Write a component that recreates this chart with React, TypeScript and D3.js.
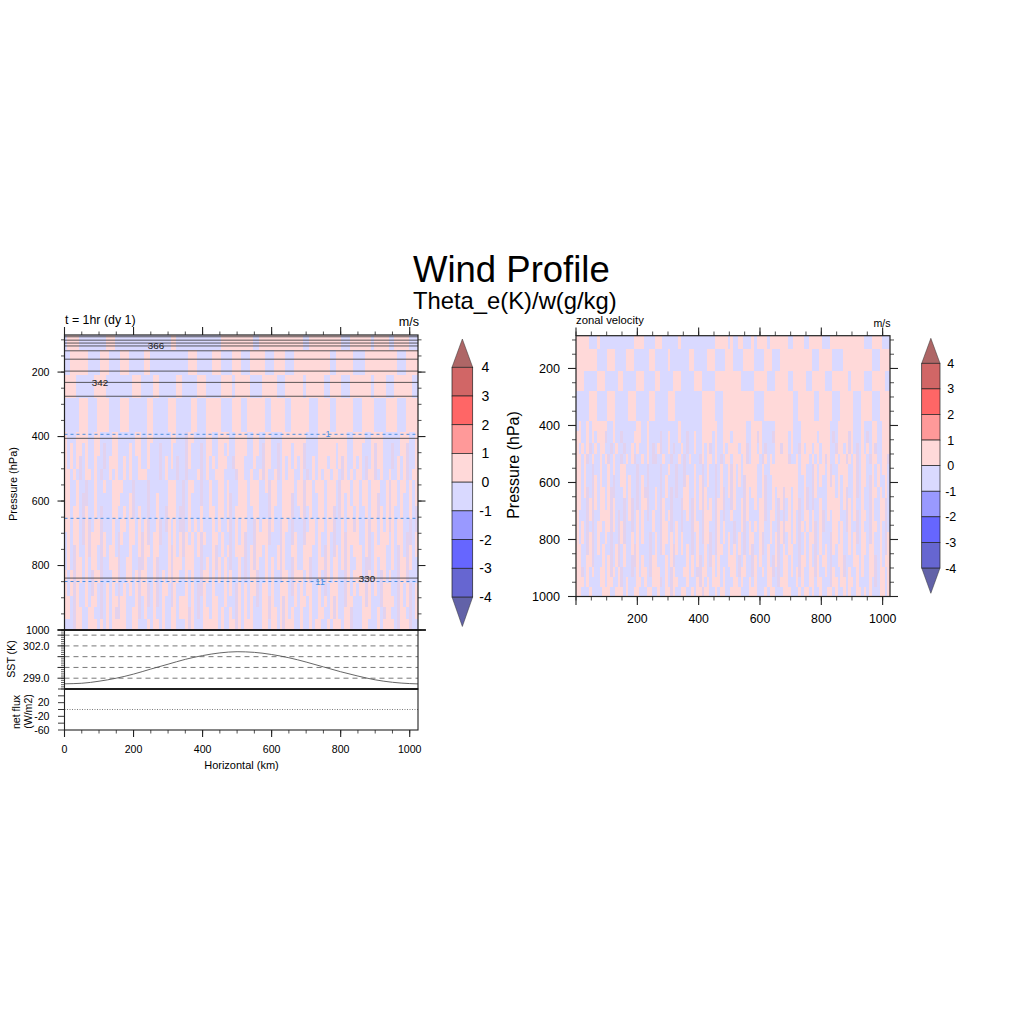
import React from "react";
import * as d3 from "d3";

const FONT = "'Liberation Sans', Arial, sans-serif";
const PINK = "#ffd9d9", BLUE = "#d9d9ff", MAUVE = "#e3d2ee";
const cellColor: Record<string, string> = { p: PINK, b: BLUE, m: MAUVE };

// pressure edges of the bands (hPa)
const levelEdges = [85, 130, 210, 280, 385, 420, 460, 500, 535, 575, 615, 655, 695, 735, 775, 815, 855, 895, 930, 965, 1000];

// sign of the wind per band, left to right: p positive, b negative, m mixed ("4p" = four cells)
const leftRows = [
  "1b 4p 9b 3p 19b 2p 15b 7p 4p 2b 15p 2b 11p 3b 7p 1b 5p 2b 5p 3b",
  "2b 6p 4b 3p 4b 3p 5b 2p 13b 3p 5b 3p 4b 3p 3b 5p 3b 4p 3b 12p 2b 6p 4b 11p 3b 4p",
  "4p 6b 4p 9b 3p 4b 2p 6b 2p 5b 3p 5b 4p 1b 2p 3p 4b 5p 3b 6p 1b 6p 2b 4p 3b 7p 1b 4p 3b 6p 2b",
  "5b 3p 3b 4p 4b 3p 6b 2p 5b 3p 5b 2p 3b 5p 4b 3p 2b 6p 2b 5p 2b 6p 3b 4p 2b 6p 3b 4p 4b 4p 3b 4p",
  "pbbbppppbb ppbbbbppbb bbbbppbbpp bbbbbbppbb bmppbbbbpp bbppppbbpp ppbbppbbpp bbbbpppppp ppbbbbpppp ppppppbbpp ppbbppppbb bbbbpppbbp",
  "pbpbppbpbb ppbmbbppbb bbpbppbbpb bbmbbbpbbb bmpbbbmbpp bbppbpbbpp ppbbppbmpp bbmbpppbpp pmbbbbpppp ppbpppbbpp pbbbpmppbb bmbbppmbbp",
  "pbpbpmbpbb pbbmbpppbb pbpbbpbbpb bbmbpbpbmb bmpbbbmbpb pbpppbbmpp pbbbpbbmpp bbmbpbpbpb pmbbpbpppb ppbpmpbbpb pbmbpmppbb bmbpbpmbbp",
  "ppbpbmbppb pbmbbpbpbb pbpbbpppbb bbmbpbbbmb bmbbbpmbpb bpppbbbbmp pbbpbbpmpb bpmbpbppbb pbmbpbpbpp bppbmpbpbp pbmppmbpbb pbbpbpmbpp",
  "ppbbpbbmbb pbbpbbpppp bbbmbbbbmb bbbbbpppbb mbppbbmbbp bbppbpbbbp ppbpppbbpm ppbbppppbp pmppbpppbp ppbmpppbpp bppbpppbbp mppbppbpbp",
  "ppbbpbmmbb pbbbbbpppb bbpmbbbbmb bpbbbpppbb mbpbbbmbbp bbppbpmbbp ppbpppbbbm ppbbpppmbp pmppbbppbp ppbmpbpbpp bppbppmbbp mppbpbbpbp",
  "ppbppbmpbb pbmbbbppbb pbpmbpbbmb bpbbmpppbm mbpbbbpbbp pbppbpmbpp ppbbppbbbm pbbbpppmbb pmbpbbppbp pmbmpbppbp bbpbppmpbp mpbbpbbpbm",
  "ppbppbmpmb ppmbbbpbbp pbppbpbpmb bpmbmpbpbm mbpbpbpbbb pbpbbpmbpb ppbbmpbppm pbbmppbmbb bmbppbppbp pmbbpbppmp bbpmppbpbp mpbppbbmbm",
  "bpbppbmpmp ppmpbbpbmp bbppbpmpmb ppmbbpbpbp mpbpbpmpbb ppbpbbmbpb pmbbmppppm bbbmpbbmpb bmpppbpbbp bmbbpmpppp bbpmbpbppp bpbppbmmbp",
  "bpbmpbbpmp pbmpbppbmb bbpbbpmppb ppbbbpmpbp mpppbpmbbb pmbpbpmbpp pmbpmppbpb bbpmpbbppb bpppbbpbmp bmpbpmpbpp pbpmbppppb bpbmpbmpbp",
  "bpbmppbpbp pbmbbpppmb bppbbmmpbb pmbbbpmppp bpppbbmbpb pmpbpbmbbp bmbpmpbbpb pbpmpbbmpb bppmbbppmp bppbpmpbbp pbmmbpbppb bpbmppmpbb",
  "pbpmppbpbm ppmbbbppmb bppbpmppbb pmbpbpmppb bpbpbbmppb pbpbpbpbbp bmbppmbbpb pbbmppbmpp pbpmbbpbmp bppbbmpbpp pbmpbpbmpb pbbmppmbbb",
  "pbpmpbbpbm pbmbpbpbmb pbpbpmppmb pmbppbmpbb bpbpbmmpbb pbbbpbpbmp bpbppmbppb pbbpppbmpb pbppbbpbmb pppbbmpbpb ppmpbpbmpp pbbmpbpmbp",
  "ppbmpbbpbp pbmbpbppmp pbbbpmbpmb pmbpbbmpbp ppbpbmbpbb ppbbpbbbmp bpbpbmbppm pbbpmpbbpb ppbpbbpbpb pmpbbmppbb bpmpbbbmpp ppbmpbpmbp",
  "ppbmppbbpp bbmbpbpmmp pbbppmbpbb pbbpbbppbp ppmpbmbppb ppbpbbpbmp bpbpbbbppm ppbpmpbpbb pbbpbbppbb pmpbbppmbb bpppbbpbmp pbbmppbmbp",
  "bbbmppbbpp pbpbpbpppp pbbppbbbpb ppbpbbppbb bpmpbbbppp ppbpbbppmp bpppbbbppb ppbpmpppbb pbbpbppbbp bpppbppmbb bppbbbpbpp ppbmpppmbb",
];

const rightRows = [
  "5p 3b 1p 13b 4p 4b 3p 6b 1p 13b 5p 1b 1p 2b 2p 3b 1p 1b 4p 1b 7p 2b 4p 2b 5p 3b 13p 3b 4p 3b",
  "8p 4b 3p 4b 3p 6b 2p 5b 1p 7b 2p 5b 3p 4b 3p 4b 4p 4b 3p 3b 12p 3b 5p 4b 11p 3b 4p",
  "3p 5b 3p 5b 2p 5b 3p 4b 2p 5b 3p 5b 3p 5b 7p 3p 5b 5p 3b 5p 2b 5p 2b 5p 3b 6p 1b 5p 3b 5p 2b",
  "5b 3p 4b 3p 5b 3p 5b 2p 5b 3p 10b 5p 3b 4p 8p 4b 11p 2b 6p 2b 5p 3b 5p 3b 4p 3b 4p",
  "bpbbpbpppp ppbbpbbbbb bbbppbbpbb bbbbbbbbbp bbbbbbbbpp ppppbbpppp pppppbbppp pbbbbbpppp pppbbbpppp pppppppbbb ppppppbbbp bbbppbbppp",
  "ppbbpbpbpp pmbbpbbmbb bbpppbbpbb bbmbbpbbbp bbmbbpbbpp ppbpbbpppb pppppbbppm pbbbbmpppp pbpbbbpppp ppbppppbmb ppppmpbbbp bmbppbbppp",
  "pbpbpmbpbp pbbmbpbbmb bpbpbbbpbm bpmbbpbmbb pbmbbpbbpb pmbpbbpbpp ppbppmbppb pbmbbbppmp pbpbbmpbpp bppbpppbbm ppbpmpbmbp bpbpmbbppp",
  "ppbpmbpbbp bpmbpbbmbp bpmbbpbpbm mbbpbbmbbp bmbpbbbmpb ppbpbmbppb pppbpmbppp bmpbpbpppp pmbbpbpppb pbpbpmpbbp bppmpbpmbp pbmppbbppm",
  "ppbpbbmbbp bbpbpbbppb bbbmbbbmbb bbmbbpbbmb bmbbbpbbmb pbbmbpbbpm pbpbpppppb bpbbpppppp pppppbppbb mpbppbpmbb ppppbbpmbp pbbpbpbppb",
  "ppbpbbmpbp bbpbmbbppb pbbmbpbmbb bbmbpbbbmb bmpbbpbpmb pbbmbpbbpm pbpbmppppb bpmbbppppp pppppbbpbb mpbpbbpmpb pbppbbpmbp pbmpbpbbpb",
  "ppbpmbmpbp pbpmmbbbpb pbbmbpmmbb pbmbpbmbmb bppbbpbpmp bbbmbpmbpm pbbbmpbppb bpmbbpbppm ppbppbbpmb mpbbbbpppb pbpmbbpmbp bbmppbpbpb",
  "ppbbmpmpbp pbpmpbbbmb pmbmbppmbb pbmpbbmbbb mppbmpbpmp bpbmppmbbm pbbpmpbbpb ppmbbpbmpm bpbppmbpmb mbbpbbpppp pbpmpbpbbp bbmpbbppmb",
  "pbbbmpmbbp pppmpbmbmb pmbpbpbmbp bbmpbpmbbb mbpbmpbbmp ppbmpbmbbp bbbpmpbbbb ppmbppbmbm bpbpbmbppb pbbpmbpbpp pbbmpbpmbp pbmpbbppmb",
  "pbpbmbmbpp bppmpbmpmb bmbpbpbbbp bbmppbmbpb mbbbmppbmp pbbmpbpbbb mbbpmbpbpb ppbbpbbmpm ppbpbmpbpb pmbpmbbbpp bpbmpbbmbp bbmppbpbmb",
  "pbpbmpmbpb bpbmbbmpmb bpbpbpbbmb pbmppbpbpb pbbbmbpbmp pmbmpbpbpb mbpbmbppbb pmbbpbpmpm bpbpbmbpbp pmbpbbbmpp bpbbpbpmbp pbmpbbpbmp",
  "ppbbmpmbpb pbbmbpmbpb bpmpbbbbmb pbmpbbpmpb pbpbmbpbbp bmbmppbbpb pbpbmbpmbb pmbpbbpmbp bppbbmbpbp bmbpbpbmpb ppbbpbpbbp pbppbbpbmp",
  "ppbbppmbbb pbpmbpmbpb bmmpbpbbmp pbbbpbpmbb bbpbpbpmbp bmpbpbbbpp pbmbpbbmpb pbbpbmpmbp pbpbbmppbp bmpbppbmbb ppmbbbppbp bbppmbpbpp",
  "ppmbpbpbbp pbpmpbpmbb bmbpbppbmp ppbbpbmpbb bppbpbmmpp bbpbpbpbbp pbmppbbmpb bpbppmbmbp pbpbpmpbbp pmpbbpbmpb bpmbpbbpbp bbppmbppbp",
  "pppbpbbbbp pbppbbpmbp bbbppbpbbp ppmbpbmppb bbpbbbpmpb pbpppbpbbb ppbpbbpbpb bbbppbbmpp pbbbpbpbbp pbppbbbmpp bppbppbpbb bbpbmbppbp",
  "ppbbbpbbbb pppbbpppbp bbppbbbppb bpbbppmpbb ppbbpbppmp pbbpbppbbp pppbbbpppb bbpbppbbbp ppbbbpbppb pbbpbbppbp bbpbpbbppb pbpbbbppbp",
];

const leftContours = [90.5, 101, 110, 119, 134, 160, 197, 232, 275, 405.5, 839];
const leftDashed = [393, 653.6, 849.6];
const sstKm = [0, 50, 100, 150, 200, 250, 300, 350, 400, 450, 500, 550, 600, 650, 700, 750, 800, 850, 900, 950, 1000, 1024];
const sstVal = [298.48, 298.53, 298.72, 299.0, 299.38, 299.85, 300.3, 300.75, 301.1, 301.35, 301.46, 301.4, 301.2, 300.9, 300.5, 300.05, 299.6, 299.2, 298.85, 298.62, 298.5, 298.47];
const sstDashed = [299, 300, 301, 302, 303];
const pressureTicks = [200, 400, 600, 800, 1000];
const kmTicks = [0, 200, 400, 600, 800, 1000];
const barLevels = [4, 3, 2, 1, 0, -1, -2, -3, -4];
const barColors = ["#d16666", "#ff6666", "#ff9999", "#ffd9d9", "#d9d9ff", "#9999ff", "#6666ff", "#6666d1"];
const barTop = "#ae6666", barBottom = "#6262a8";

const range = (a: number, b: number, s: number) => d3.range(a, b + s / 2, s);
const expand = (raw: string) =>
  raw.replace(/\s/g, "").replace(/(\d+)([pbm])/g, (_, n, ch) => ch.repeat(+n));

function Heat({ rows, x, y }: { rows: string[]; x: any; y: any }) {
  const cells: React.ReactNode[] = [];
  rows.forEach((raw, r) => {
    const row = expand(raw);
    const cw = d3.scaleLinear().domain([0, row.length]).range(x.domain());
    for (let c = 0; c < row.length; c++) {
      let e = c + 1;
      while (e < row.length && row[e] === row[c]) e++;
      const x0 = x(cw(c)), x1 = x(cw(e));
      const y0 = y(levelEdges[r]), y1 = y(levelEdges[r + 1]);
      cells.push(<rect key={r + "-" + c} x={x0} y={y0} width={x1 - x0} height={y1 - y0} fill={cellColor[row[c]]} />);
      c = e - 1;
    }
  });
  return <g shapeRendering="crispEdges">{cells}</g>;
}

function Bar({ x0, x1, y, labelX, size, tipTop, tipBottom }: any) {
  const xm = (x0 + x1) / 2;
  const top = y(4), bottom = y(-4);
  return (
    <g>
      <path d={`M${x0},${top}L${xm},${tipTop}L${x1},${top}Z`} fill={barTop} stroke="#333" strokeWidth={0.5} />
      <path d={`M${x0},${bottom}L${xm},${tipBottom}L${x1},${bottom}Z`} fill={barBottom} stroke="#333" strokeWidth={0.5} />
      {barColors.map((c, i) => (
        <rect key={i} x={x0} y={y(barLevels[i])} width={x1 - x0} height={y(barLevels[i + 1]) - y(barLevels[i])} fill={c} stroke="#222" strokeWidth={0.7} />
      ))}
      {barLevels.map((l) => (
        <text key={l} x={labelX} y={y(l) + size * 0.36} fontSize={size} textAnchor="middle">{l}</text>
      ))}
    </g>
  );
}

export default function App() {
  const lx = d3.scaleLinear().domain([0, 1024]).range([64.5, 418]);
  const ly = d3.scaleLinear().domain([85, 1000]).range([335, 630]);
  const rx = d3.scaleLinear().domain([0, 1024]).range([576, 890]);
  const ry = d3.scaleLinear().domain([85, 1000]).range([335.7, 596.5]);
  const sy = d3.scaleLinear().domain([299, 302]).range([678.2, 645.9]);
  const fy = d3.scaleLinear().domain([60, -60]).range([689, 730]);
  const sstLine = d3.line<number>().x((_, i) => lx(sstKm[i])).y((d) => sy(d)).curve(d3.curveMonotoneX);
  const barL = d3.scaleLinear().domain([4, -4]).range([367.3, 597]);
  const barR = d3.scaleLinear().domain([4, -4]).range([363.3, 568]);
  const minorP = range(100, 1000, 50);
  const minorK = range(0, 1000, 50);
  const sstMinor = d3.range(298, 303.5, 0.2).filter((v) => sy(v) > 630 && sy(v) < 689);
  const L = "#222";

  return (
    <svg width={1024} height={1024} style={{ position: "absolute", left: 0, top: 0, display: "block", background: "#fff" }} fontFamily={FONT} fill="#000">
      <text x={413} y={282} fontSize={36.5}>Wind Profile</text>
      <text x={413} y={309} fontSize={23.8}>Theta_e(K)/w(g/kg)</text>

      {/* left main panel */}
      <Heat rows={leftRows} x={lx} y={ly} />
      {leftContours.map((p) => (
        <line key={p} x1={lx(0)} x2={lx(1024)} y1={ly(p)} y2={ly(p)} stroke="#333" strokeWidth={0.8} />
      ))}
      {leftDashed.map((p) => (
        <line key={p} x1={lx(0)} x2={lx(1024)} y1={ly(p)} y2={ly(p)} stroke="#4a8fe0" strokeWidth={1} strokeDasharray="3 3" />
      ))}
      <text x={156} y={349} fontSize={9.8} textAnchor="middle" fill="#222">366</text>
      <text x={100} y={386} fontSize={9.8} textAnchor="middle" fill="#222">342</text>
      <text x={367} y={582} fontSize={9.8} textAnchor="middle" fill="#222">330</text>
      <text x={328} y={437} fontSize={9} textAnchor="middle" fill="#4a8fe0">1</text>
      <text x={320} y={585} fontSize={9} textAnchor="middle" fill="#4a8fe0">11</text>
      <rect x={64.5} y={335} width={353.5} height={295} fill="none" stroke={L} strokeWidth={1.2} />

      {minorP.map((p) => (
        <g key={p} stroke={L} strokeWidth={0.8}>
          <line x1={61} x2={64.5} y1={ly(p)} y2={ly(p)} />
          <line x1={418} x2={421.5} y1={ly(p)} y2={ly(p)} />
        </g>
      ))}
      {pressureTicks.map((p) => (
        <g key={p}>
          <line x1={57.5} x2={64.5} y1={ly(p)} y2={ly(p)} stroke={L} strokeWidth={1.1} />
          <line x1={418} x2={425.5} y1={ly(p)} y2={ly(p)} stroke={L} strokeWidth={1.1} />
          <text x={49.5} y={ly(p) + 3.8} fontSize={10.6} textAnchor="end">{p}</text>
        </g>
      ))}
      {minorK.map((k) => (
        <line key={k} x1={lx(k)} x2={lx(k)} y1={331.5} y2={335} stroke={L} strokeWidth={0.8} />
      ))}
      {kmTicks.map((k) => (
        <line key={k} x1={lx(k)} x2={lx(k)} y1={327} y2={335} stroke={L} strokeWidth={1.1} />
      ))}
      <text x={65} y={323.5} fontSize={12.4}>t = 1hr (dy 1)</text>
      <text x={419} y={326} fontSize={12.6} textAnchor="end">m/s</text>
      <text transform="translate(17,484) rotate(-90)" fontSize={11} textAnchor="middle">Pressure (hPa)</text>

      {/* SST panel */}
      {sstDashed.map((v) => (
        <line key={v} x1={lx(0)} x2={lx(1024)} y1={sy(v)} y2={sy(v)} stroke="#555" strokeWidth={0.8} strokeDasharray="5 4" />
      ))}
      <path d={sstLine(sstVal) || ""} fill="none" stroke="#555" strokeWidth={0.9} />
      <rect x={64.5} y={630} width={353.5} height={59} fill="none" stroke={L} strokeWidth={1.1} />
      {sstMinor.map((v) => (
        <line key={v} x1={61} x2={64.5} y1={sy(v)} y2={sy(v)} stroke={L} strokeWidth={0.7} />
      ))}
      {sstDashed.map((v) => (
        <line key={v} x1={57.5} x2={64.5} y1={sy(v)} y2={sy(v)} stroke={L} strokeWidth={1} />
      ))}
      <text x={49.5} y={sy(302) + 3.8} fontSize={10.6} textAnchor="end">302.0</text>
      <text x={49.5} y={sy(299) + 3.8} fontSize={10.6} textAnchor="end">299.0</text>
      <text transform="translate(14.5,659) rotate(-90)" fontSize={10.6} textAnchor="middle">SST (K)</text>

      {/* flux panel */}
      <line x1={lx(0)} x2={lx(1024)} y1={fy(0)} y2={fy(0)} stroke="#444" strokeWidth={0.7} strokeDasharray="1 1.5" />
      <rect x={64.5} y={689} width={353.5} height={41} fill="none" stroke={L} strokeWidth={1.1} />
      <line x1={64.5} x2={418} y1={689} y2={689} stroke="#111" strokeWidth={1.6} />
      <line x1={57.5} x2={426} y1={630} y2={630} stroke="#111" strokeWidth={1.6} />
      {[60, 40, 20, 0, -20, -40, -60].map((v) => (
        <line key={v} x1={58} x2={64.5} y1={fy(v)} y2={fy(v)} stroke={L} strokeWidth={0.9} />
      ))}
      {[20, -20, -60].map((v) => (
        <text key={v} x={49.5} y={fy(v) + 3.8} fontSize={10.6} textAnchor="end">{v}</text>
      ))}
      <text transform="translate(20,712) rotate(-90)" fontSize={10.6} textAnchor="middle">net flux</text>
      <text transform="translate(32,711.5) rotate(-90)" fontSize={10.6} textAnchor="middle">(W/m2)</text>
      {minorK.map((k) => (
        <line key={k} x1={lx(k)} x2={lx(k)} y1={730} y2={733.5} stroke={L} strokeWidth={0.8} />
      ))}
      {kmTicks.map((k) => (
        <g key={k}>
          <line x1={lx(k)} x2={lx(k)} y1={730} y2={737} stroke={L} strokeWidth={1.1} />
          <text x={lx(k)} y={752.5} fontSize={10.6} textAnchor="middle">{k}</text>
        </g>
      ))}
      <text x={241.5} y={768.5} fontSize={11} textAnchor="middle">Horizontal (km)</text>

      <Bar x0={452} x1={472.7} y={barL} labelX={485.5} size={14} tipTop={339} tipBottom={626.5} />

      {/* right panel */}
      <Heat rows={rightRows} x={rx} y={ry} />
      <rect x={576} y={335.7} width={314} height={260.8} fill="none" stroke={L} strokeWidth={1.2} />
      {minorP.map((p) => (
        <g key={p} stroke={L} strokeWidth={0.8}>
          <line x1={572} x2={576} y1={ry(p)} y2={ry(p)} />
          <line x1={890} x2={894} y1={ry(p)} y2={ry(p)} />
        </g>
      ))}
      {pressureTicks.map((p) => (
        <g key={p}>
          <line x1={568} x2={576} y1={ry(p)} y2={ry(p)} stroke={L} strokeWidth={1.1} />
          <line x1={890} x2={898} y1={ry(p)} y2={ry(p)} stroke={L} strokeWidth={1.1} />
          <text x={560} y={ry(p) + 4.5} fontSize={12.6} textAnchor="end">{p}</text>
        </g>
      ))}
      {minorK.map((k) => (
        <g key={k} stroke={L} strokeWidth={0.8}>
          <line x1={rx(k)} x2={rx(k)} y1={331.5} y2={335.7} />
          <line x1={rx(k)} x2={rx(k)} y1={596.5} y2={600.5} />
        </g>
      ))}
      {kmTicks.map((k) => (
        <g key={k}>
          <line x1={rx(k)} x2={rx(k)} y1={327.5} y2={335.7} stroke={L} strokeWidth={1.1} />
          <line x1={rx(k)} x2={rx(k)} y1={596.5} y2={605} stroke={L} strokeWidth={1.1} />
          {k > 0 && <text x={rx(k)} y={623} fontSize={12.3} textAnchor="middle">{k}</text>}
        </g>
      ))}
      <text x={576} y={324} fontSize={11.3}>zonal velocity</text>
      <text x={890.5} y={327} fontSize={10.6} textAnchor="end">m/s</text>
      <text transform="translate(519,465) rotate(-90)" fontSize={16} textAnchor="middle">Pressure (hPa)</text>

      <Bar x0={921.7} x1={940} y={barR} labelX={950.7} size={12.5} tipTop={338.3} tipBottom={593.3} />
    </svg>
  );
}
